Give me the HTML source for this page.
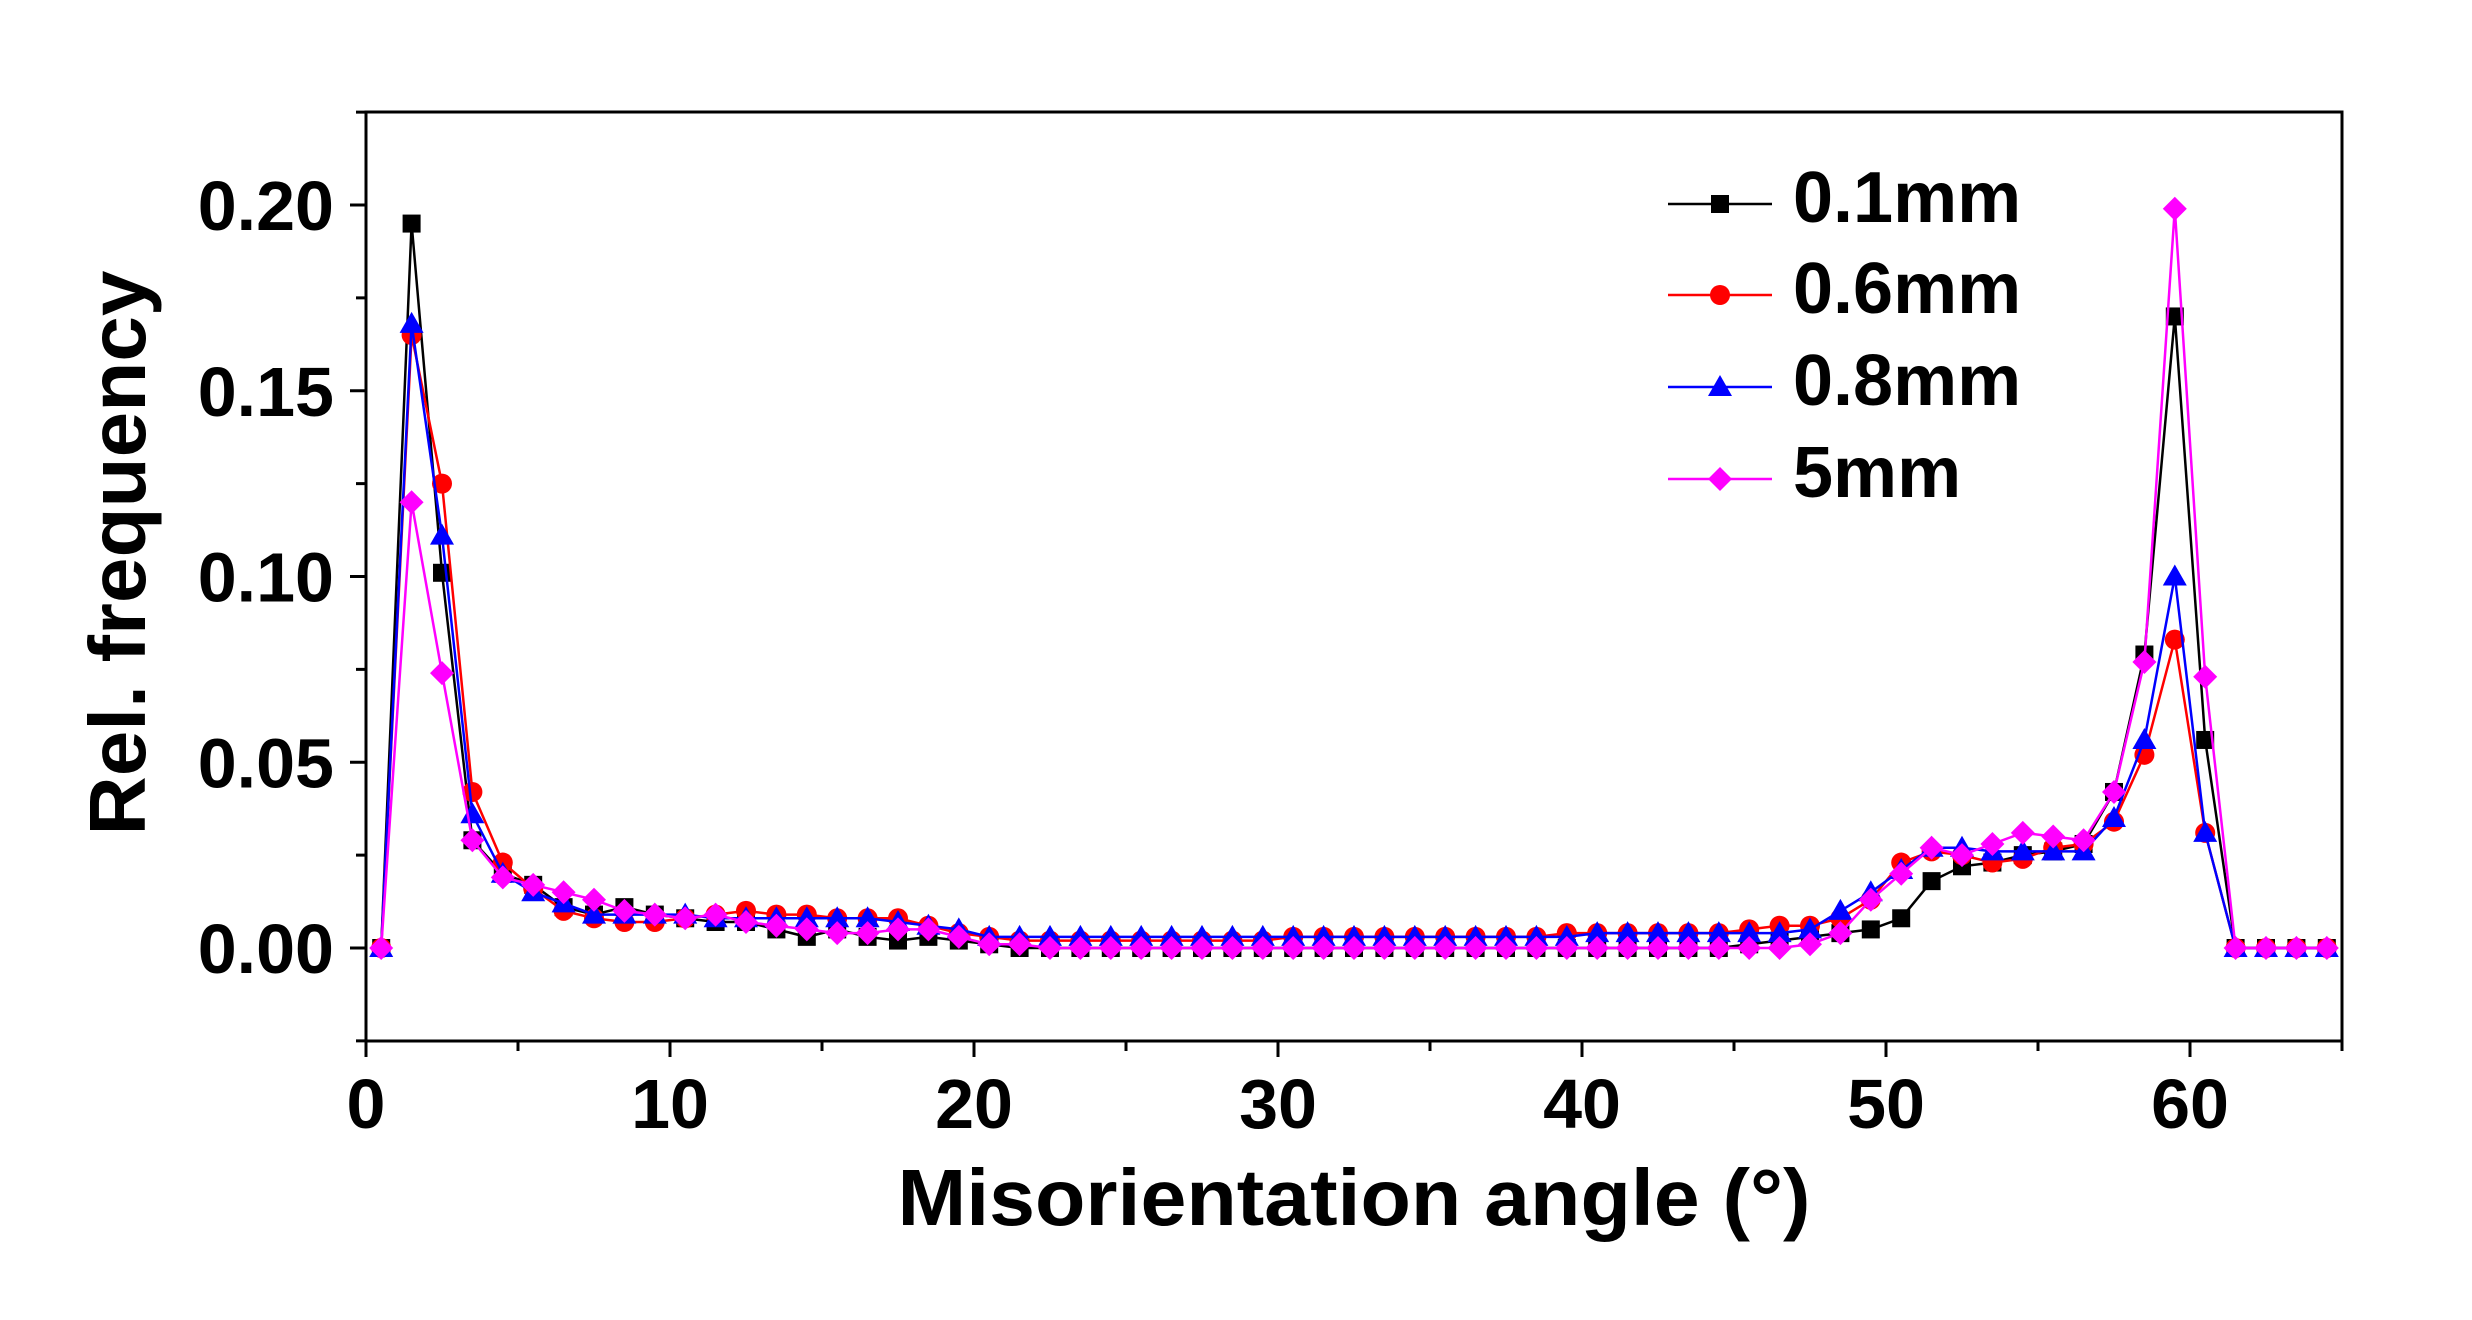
<!DOCTYPE html>
<html><head><meta charset="utf-8"><style>html,body{margin:0;padding:0;background:#fff}svg{display:block}</style></head>
<body>
<svg id="s" width="2472" height="1320" xmlns="http://www.w3.org/2000/svg" font-family="Liberation Sans, Arial, sans-serif" font-weight="bold"></svg>
<script>
const s=document.getElementById('s');
const L=366,R=2342,T=112,B=1041;
const X=v=>L+(v)/65*(R-L);
const Y=v=>948-(v)/0.05*185.75;
let h='';
h+=`<rect x="${L}" y="${T}" width="${R-L}" height="${B-T}" fill="none" stroke="#000" stroke-width="3"/>`;
for(let v=0;v<=65;v+=5){const x=X(v);h+=`<line x1="${x}" y1="${B}" x2="${x}" y2="${B+(v%10==0?16:10)}" stroke="#000" stroke-width="3"/>`;
 if(v%10==0)h+=`<text x="${x}" y="1128" font-size="70" text-anchor="middle">${v}</text>`;}
for(let i=-1;i<=9;i++){const v=i*0.025,y=Y(v);h+=`<line x1="${L}" y1="${y}" x2="${L-(i%2==0?16:10)}" y2="${y}" stroke="#000" stroke-width="3"/>`;
 if(i%2==0&&i>=0)h+=`<text x="334" y="${y+25}" font-size="70" text-anchor="end">${v.toFixed(2)}</text>`;}
h+=`<text x="0" y="0" font-size="80" text-anchor="middle" transform="translate(145,553) rotate(-90)" textLength="565" lengthAdjust="spacingAndGlyphs">Rel. frequency</text>`;
h+=`<text x="1354" y="1225" font-size="80" text-anchor="middle" textLength="913" lengthAdjust="spacingAndGlyphs">Misorientation angle (°)</text>`;
const z=n=>Array(n).fill(0);
const D={
k:[0,.195,.101,.029,.02,.017,.011,.009,.011,.009,.008,.007,.007,.005,.003,.005,.003,.002,.003,.002,.001,...z(24),.001,.002,.003,.004,.005,.008,.018,.022,.023,.025,.026,.028,.042,.079,.17,.056,0,0,0,0],
r:[0,.165,.125,.042,.023,.016,.01,.008,.007,.007,.008,.009,.01,.009,.009,.008,.008,.008,.006,.004,.003,.002,.002,.002,.002,.002,.002,.002,.002,.002,.003,.003,.003,.003,.003,.003,.003,.003,.003,.004,.004,.004,.004,.004,.004,.005,.006,.006,.008,.013,.023,.026,.025,.023,.024,.027,.028,.034,.052,.083,.031,0,0,0,0],
b:[0,.168,.111,.036,.02,.015,.012,.009,.009,.009,.009,.008,.008,.008,.008,.008,.008,.007,.006,.005,.003,.003,.003,.003,.003,.003,.003,.003,.003,.003,.003,.003,.003,.003,.003,.003,.003,.003,.003,.003,.004,.004,.004,.004,.004,.004,.004,.005,.01,.015,.021,.027,.027,.026,.026,.026,.026,.035,.056,.1,.031,0,0,0,0],
m:[0,.12,.074,.029,.019,.017,.015,.013,.01,.009,.008,.009,.007,.006,.005,.004,.004,.005,.005,.003,.001,.001,...z(25),.001,.004,.013,.02,.027,.025,.028,.031,.03,.029,.042,.077,.199,.073,0,0,0,0]};
const mk=(t,x,y,c)=>t=='k'?`<rect x="${x-9}" y="${y-9}" width="18" height="18" fill="${c}"/>`:
 t=='r'?`<circle cx="${x}" cy="${y}" r="10" fill="${c}"/>`:
 t=='b'?`<polygon points="${x},${y-12} ${x+12},${y+9} ${x-12},${y+9}" fill="${c}"/>`:
 `<polygon points="${x},${y-12} ${x+12},${y} ${x},${y+12} ${x-12},${y}" fill="${c}"/>`;
const C={k:'#000',r:'#ff0000',b:'#0000ff',m:'#ff00ff'};
for(const t of ['k','r','b','m']){const d=D[t];let p=[];
 for(let i=0;i<65;i++)p.push(X(i+0.5).toFixed(1)+','+Y(d[i]||0).toFixed(1));
 h+=`<polyline points="${p.join(' ')}" fill="none" stroke="${C[t]}" stroke-width="2.5"/>`;
 for(let i=0;i<65;i++)h+=mk(t,X(i+0.5),Y(d[i]||0),C[t]);}
const lab=[['k','0.1mm',204],['r','0.6mm',295],['b','0.8mm',387],['m','5mm',479]];
for(const [t,n,y] of lab){h+=`<line x1="1668" y1="${y}" x2="1772" y2="${y}" stroke="${C[t]}" stroke-width="2.5"/>`+mk(t,1720,y,C[t])+`<text x="1793" y="${y+18}" font-size="72">${n}</text>`;}
s.innerHTML=h;
</script>
</body></html>
